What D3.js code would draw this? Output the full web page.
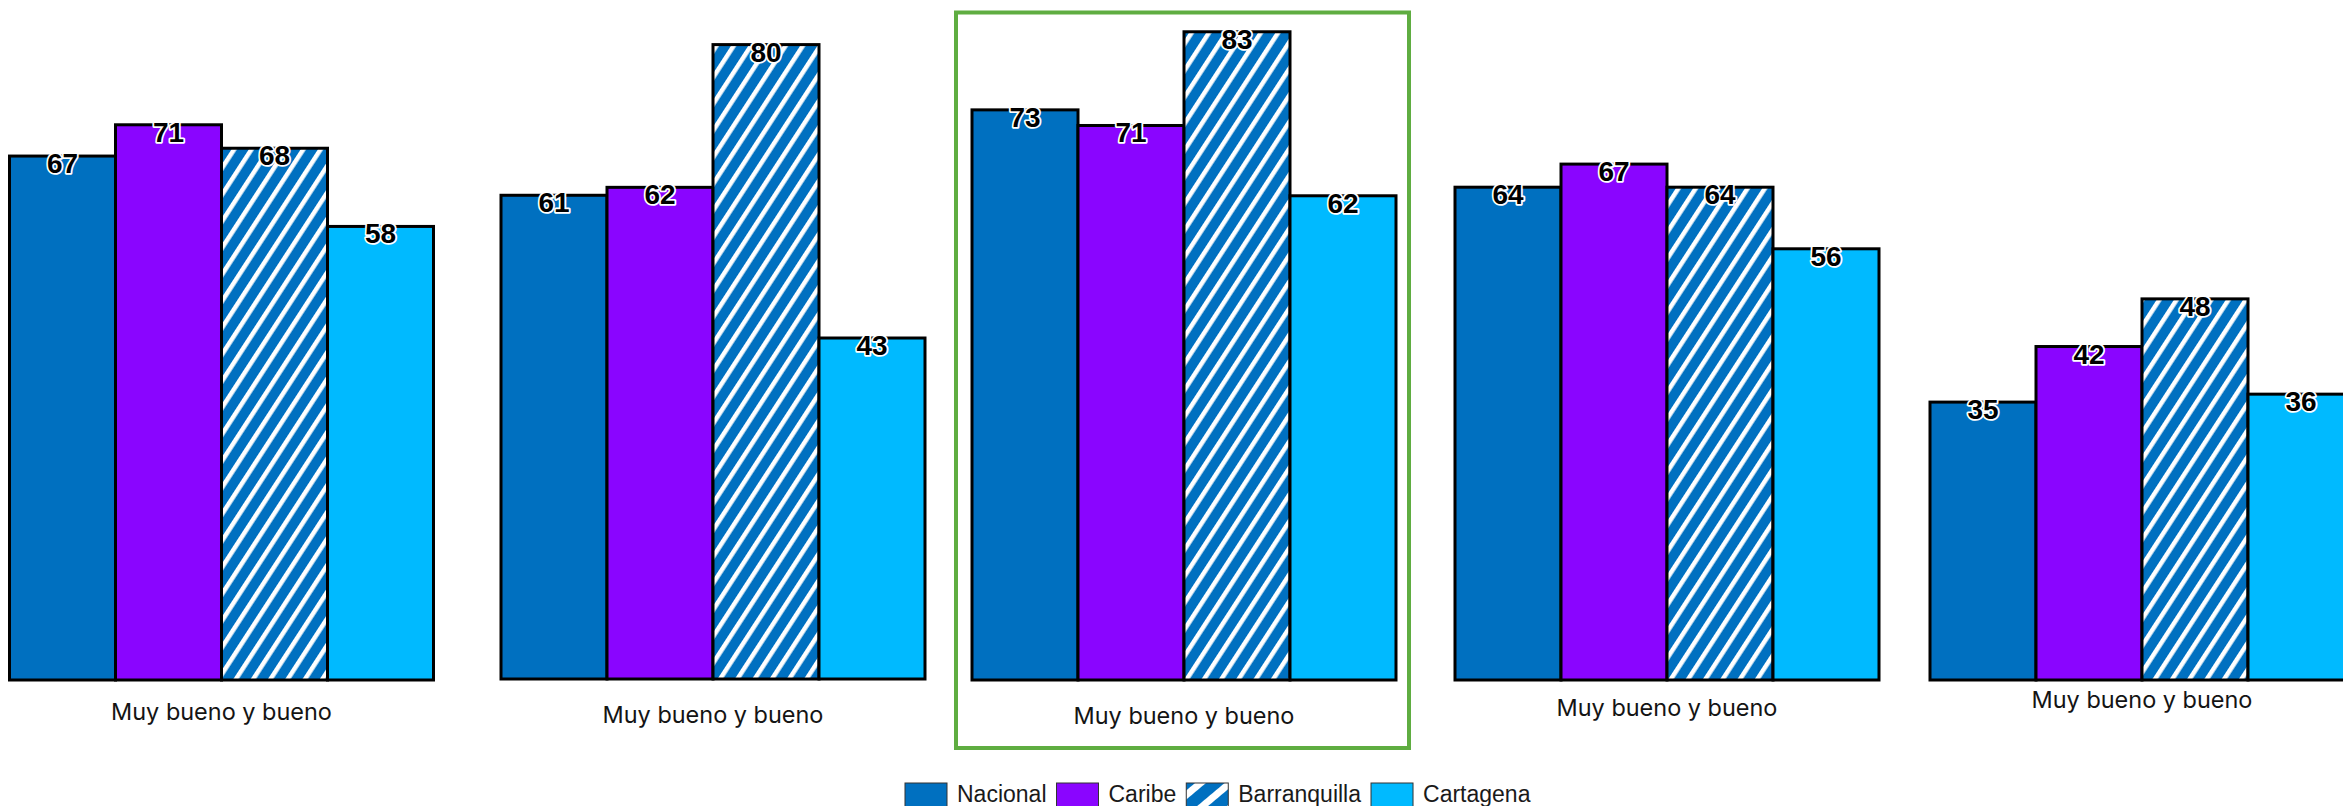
<!DOCTYPE html>
<html>
<head>
<meta charset="utf-8">
<script src="https://cdn.jsdelivr.net/npm/d3@7"></script>
<style>
  html, body { margin: 0; padding: 0; background: #ffffff; }
  svg { display: block; }
</style>
</head>
<body>
<svg id="chart" width="2343" height="806"></svg>
<script>
// ---------- DATA ----------
const seriesNames = ["Nacional", "Caribe", "Barranquilla", "Cartagena"];
const panelCategories = ["Muy bueno y bueno", "Muy bueno y bueno", "Muy bueno y bueno", "Muy bueno y bueno", "Muy bueno y bueno"];
const nacional     = [67, 61, 73, 64, 35];
const caribe       = [71, 62, 71, 67, 42];
const barranquilla = [68, 80, 83, 64, 48];
const cartagena    = [58, 43, 62, 56, 36];

// ---------- LAYOUT / STYLE ----------
const W = 2343, H = 806;
const panelLeft = [9.5, 501, 972, 1455, 1930];
const panelPxPerUnit = [7.82, 7.93, 7.81, 7.70, 7.94];
const panelBottom = [680, 679, 680, 680, 680];
const labelBaseline = [720, 723, 724, 716, 708];
const highlightPanel = 2;
const bandWidth = 106;
const colors = { Nacional: "#0070C0", Caribe: "#8A05FF", Barranquilla: "url(#hatch)", Cartagena: "#00BAFF" };
const legendColors = { Nacional: "#0070C0", Caribe: "#8A05FF", Barranquilla: "url(#hatchLegend)", Cartagena: "#00BAFF" };

const svg = d3.select("#chart");

// hatch patterns
const defs = svg.append("defs");
function makeHatch(id, period, white, angle) {
  const p = defs.append("pattern")
    .attr("id", id)
    .attr("patternUnits", "userSpaceOnUse")
    .attr("width", period).attr("height", period)
    .attr("patternTransform", `rotate(${angle})`);
  p.append("rect").attr("width", period).attr("height", period).attr("fill", "#0070C0");
  p.append("rect").attr("x", 0).attr("y", 0).attr("width", white).attr("height", period).attr("fill", "#ffffff");
}
makeHatch("hatch", 14.5, 4.5, 33);
makeHatch("hatchLegend", 19, 7, 50);

const seriesValues = [nacional, caribe, barranquilla, cartagena];

panelCategories.forEach((cat, i) => {
  const x = d3.scaleBand().domain(seriesNames)
    .range([panelLeft[i], panelLeft[i] + bandWidth * seriesNames.length]).padding(0);
  const y = d3.scaleLinear().domain([0, 100])
    .range([panelBottom[i], panelBottom[i] - 100 * panelPxPerUnit[i]]);

  const g = svg.append("g").attr("class", "panel");
  const rows = seriesNames.map((s, j) => ({ series: s, value: seriesValues[j][i] }));

  g.selectAll("rect.bar").data(rows).join("rect")
    .attr("class", "bar")
    .attr("x", d => x(d.series))
    .attr("y", d => y(d.value))
    .attr("width", x.bandwidth())
    .attr("height", d => y(0) - y(d.value))
    .attr("fill", d => colors[d.series])
    .attr("stroke", "#000")
    .attr("stroke-width", 3);

  g.selectAll("text.val").data(rows).join("text")
    .attr("class", "val")
    .attr("x", d => x(d.series) + x.bandwidth() / 2)
    .attr("y", d => y(d.value) + 17)
    .attr("text-anchor", "middle")
    .attr("font-family", "'Liberation Sans', Arial, sans-serif")
    .attr("font-weight", "bold")
    .attr("font-size", 28)
    .attr("fill", "#000")
    .attr("stroke", "#fff")
    .attr("stroke-width", 3.5)
    .attr("paint-order", "stroke")
    .attr("stroke-linejoin", "round")
    .text(d => d.value);

  const cx = panelLeft[i] + bandWidth * seriesNames.length / 2;
  const t = g.append("text")
    .attr("x", cx)
    .attr("y", labelBaseline[i])
    .attr("text-anchor", "middle")
    .attr("font-family", "Inter, 'Open Sans', sans-serif")
    .attr("font-size", 24)
    .attr("fill", "#141414")
    .text(cat);
  const w = t.node().getComputedTextLength();
  t.attr("font-size", 24 * 221 / w);
});

// highlight frame
{
  const x0 = d3.scaleBand().domain(seriesNames)
    .range([panelLeft[highlightPanel], panelLeft[highlightPanel] + bandWidth * seriesNames.length]);
  const left = x0.range()[0] - 16, right = x0.range()[1] + 13;
  svg.append("rect")
    .attr("x", left).attr("y", 12.5)
    .attr("width", right - left).attr("height", 735.5)
    .attr("fill", "none")
    .attr("stroke", "#5FAD41")
    .attr("stroke-width", 4);
}

// legend
{
  const lg = svg.append("g").attr("class", "legend");
  let cur = 905;
  const top = 783;
  seriesNames.forEach(s => {
    lg.append("rect")
      .attr("x", cur).attr("y", top)
      .attr("width", 42).attr("height", 28)
      .attr("fill", legendColors[s])
      .attr("stroke", "#333").attr("stroke-width", 1);
    const t = lg.append("text")
      .attr("x", cur + 52).attr("y", 802)
      .attr("font-family", "'Liberation Sans', Arial, sans-serif")
      .attr("font-size", 23)
      .attr("fill", "#1a1a1a")
      .text(s);
    cur = cur + 52 + t.node().getComputedTextLength() + 10;
  });
}
</script>
</body>
</html>
